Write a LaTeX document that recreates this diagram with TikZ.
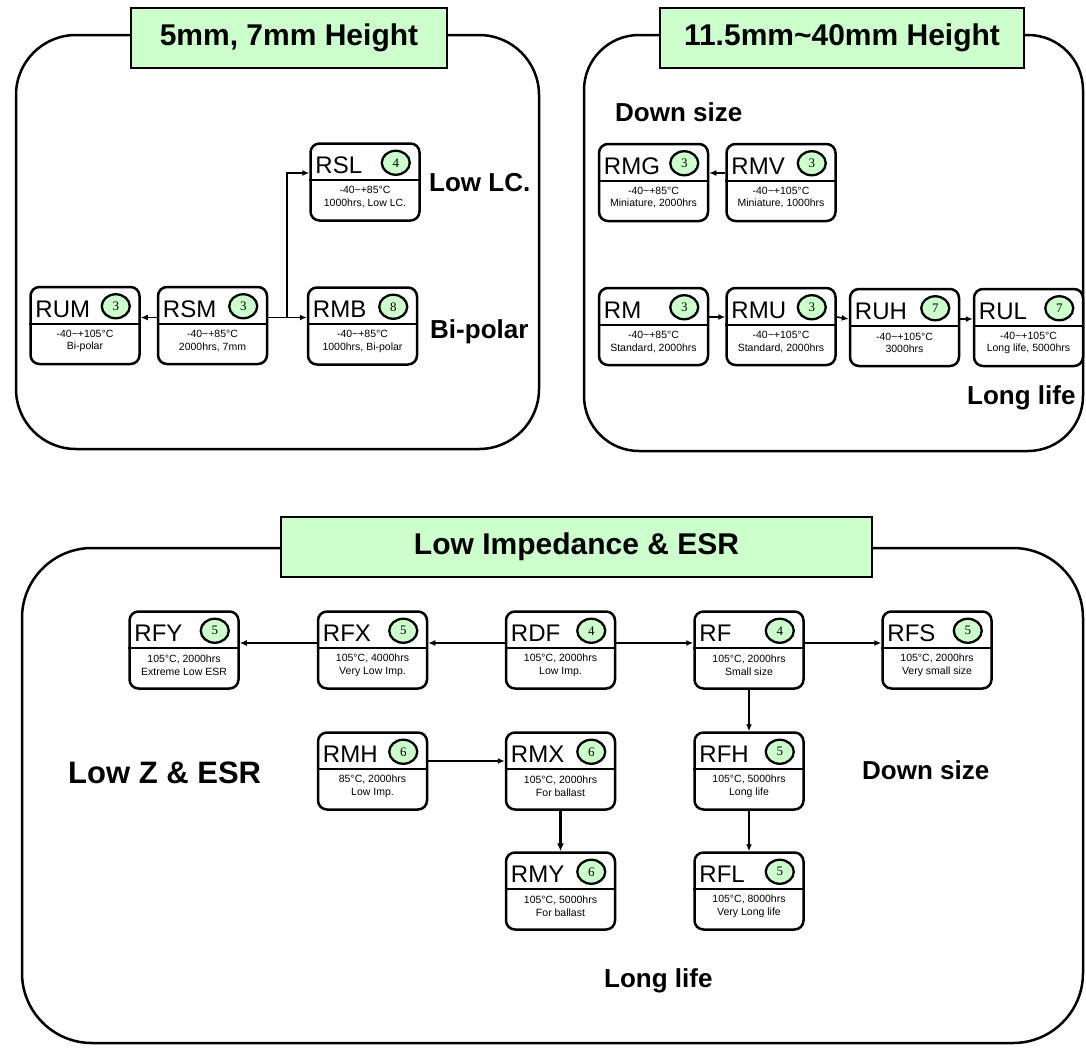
\documentclass[tikz,border=0pt]{standalone}
\usepackage{fontspec}
\setmainfont{Liberation Sans}
\newfontfamily\numfont{Liberation Serif}
\usetikzlibrary{arrows.meta,shapes.geometric,calc}
\definecolor{mint}{HTML}{CCFFCC}
\newcommand{\tilsym}{\textasciitilde}
\tikzset{
  panel/.style={draw, line width=2.5pt},
  titlebox/.style={draw, line width=2.5pt, fill=mint, minimum height=60pt, inner sep=0pt,
    font=\bfseries\fontsize{30}{30}\selectfont},
  capunit/.style={draw, line width=2.5pt, rounded corners=9pt, fill=white,
    minimum width=109pt, minimum height=77pt, inner sep=0pt},
  divline/.style={line width=2pt},
  captitle/.style={anchor=base west, inner sep=0pt, font=\fontsize{24}{24}\selectfont},
  numc/.style={ellipse, draw, line width=2.3pt, fill=mint, minimum width=28pt, minimum height=24pt,
    inner sep=0pt, font=\numfont\fontsize{13}{13}\selectfont},
  capbody/.style={align=center, inner sep=0pt, font=\fontsize{10.5}{12.5}\selectfont},
  biglabel/.style={anchor=west, inner sep=0pt, font=\bfseries\fontsize{26}{26}\selectfont},
  arr/.style={-{Latex[length=7pt,width=6pt]}, line width=1.6pt},
  thickarr/.style={-{Latex[length=8pt,width=7pt]}, line width=2.5pt}
}
% id, x, y, name, number, line1, line2
\newcommand{\capbox}[7]{%
  \node[capunit] (#1) at (#2,#3) {};
  \draw[divline] ([yshift=-38pt]#1.north west) -- ([yshift=-38pt]#1.north east);
  \node[captitle] (#1-n) at ([xshift=6pt,yshift=-31.5pt]#1.north west) {#4};
  \node[numc] (#1-c) at ([xshift=-25pt,yshift=-20.5pt]#1.north east) {#5};
  \node[capbody] (#1-b) at ([yshift=24.5pt]#1.south) {#6\\#7};
}
\begin{document}
\begin{tikzpicture}[x=1pt,y=1pt]
\fill[white] (0,0) rectangle (1086,-1047);
\useasboundingbox (0,0) rectangle (1086,-1047);

% ---------- panels ----------
\draw[panel, rounded corners=60pt] (16,-35) rectangle (539,-449);
\draw[panel, rounded corners=55pt] (584,-35) rectangle (1083,-451);
\draw[panel, rounded corners=70pt] (22,-548) rectangle (1083,-1043);

\node[titlebox, minimum width=316pt] (t1) at (289,-38) {5mm, 7mm Height};
\node[titlebox, minimum width=364pt] (t2) at (842,-38) {11.5mm\tilsym 40mm Height};
\node[titlebox, minimum width=591pt] (t3) at (576.5,-547) {Low Impedance \& ESR};

% ---------- top-left ----------
\capbox{RSL}{365}{-182}{RSL}{4}{-40\tilsym+85°C}{1000hrs, Low LC.}
\capbox{RUM}{85}{-325.5}{RUM}{3}{-40\tilsym+105°C}{Bi-polar}
\capbox{RSM}{212.5}{-325.5}{RSM}{3}{-40\tilsym+85°C}{2000hrs, 7mm}
\capbox{RMB}{362.5}{-326}{RMB}{8}{-40\tilsym+85°C}{1000hrs, Bi-polar}

\draw[arr] ([yshift=8pt]RSM.west) -- ([yshift=8pt]RUM.east);
\draw[arr] ([yshift=8pt]RSM.east) -- ([yshift=8.5pt]RMB.west);
\draw[arr] ([yshift=8pt]RSM.east) -- ++(19pt,0) |- ([yshift=9pt]RSL.west);

\node[biglabel] (lab-lowlc) at (429,-183) {Low LC.};
\node[biglabel] (lab-bipolar) at (430,-332) {Bi-polar};

% ---------- top-right ----------
\node[biglabel] (lab-down1) at (615,-112) {Down size};
\capbox{RMG}{653.5}{-182.5}{RMG}{3}{-40\tilsym+85°C}{Miniature, 2000hrs}
\capbox{RMV}{781}{-182.5}{RMV}{3}{-40\tilsym+105°C}{Miniature, 1000hrs}
\capbox{RM}{653.5}{-326.5}{RM}{3}{-40\tilsym+85°C}{Standard, 2000hrs}
\capbox{RMU}{781}{-326.5}{RMU}{3}{-40\tilsym+105°C}{Standard, 2000hrs}
\capbox{RUH}{904.5}{-327.5}{RUH}{7}{-40\tilsym+105°C}{3000hrs}
\capbox{RUL}{1028.5}{-327.5}{RUL}{7}{-40\tilsym+105°C}{Long life, 5000hrs}

\draw[arr] ([yshift=9.5pt]RMV.west) -- ([yshift=9.5pt]RMG.east);
\draw[arr] ([yshift=9.5pt]RM.east) -- ([yshift=9.5pt]RMU.west);
\draw[arr] ([yshift=9.5pt]RMU.east) -- ([yshift=8.5pt]RUH.west);
\draw[arr] ([yshift=8.5pt]RUH.east) -- ([yshift=8.5pt]RUL.west);

\node[biglabel] (lab-long1) at (967,-398) {Long life};

% ---------- bottom ----------
\capbox{RFY}{184}{-650}{RFY}{5}{105°C, 2000hrs}{Extreme Low ESR}
\capbox{RFX}{372.5}{-650}{RFX}{5}{105°C, 4000hrs}{Very Low Imp.}
\capbox{RDF}{560.5}{-650}{RDF}{4}{105°C, 2000hrs}{Low Imp.}
\capbox{RF}{749}{-650}{RF}{4}{105°C, 2000hrs}{Small size}
\capbox{RFS}{937}{-650}{RFS}{5}{105°C, 2000hrs}{Very small size}
\capbox{RMH}{372.5}{-771}{RMH}{6}{85°C, 2000hrs}{Low Imp.}
\capbox{RMX}{560.5}{-771}{RMX}{6}{105°C, 2000hrs}{For ballast}
\capbox{RFH}{749}{-771}{RFH}{5}{105°C, 5000hrs}{Long life}
\capbox{RMY}{560.5}{-891}{RMY}{6}{105°C, 5000hrs}{For ballast}
\capbox{RFL}{749}{-891}{RFL}{5}{105°C, 8000hrs}{Very Long life}

\draw[arr] ([yshift=7pt]RDF.west) -- ([yshift=7pt]RFX.east);
\draw[arr] ([yshift=7pt]RFX.west) -- ([yshift=7pt]RFY.east);
\draw[arr] ([yshift=7pt]RDF.east) -- ([yshift=7pt]RF.west);
\draw[arr] ([yshift=7pt]RF.east) -- ([yshift=7pt]RFS.west);
\draw[arr] ([yshift=10pt]RMH.east) -- ([yshift=10pt]RMX.west);
\draw[thickarr] (RMX.south) -- (RMY.north);
\draw[arr] (RF.south) -- (RFH.north);
\draw[arr] (RFH.south) -- (RFL.north);

\node[biglabel, font=\bfseries\fontsize{31}{31}\selectfont] (lab-lowz) at (68,-773) {Low Z \& ESR};
\node[biglabel] (lab-down2) at (862,-770) {Down size};
\node[biglabel] (lab-long2) at (604,-981) {Long life};
\end{tikzpicture}
\end{document}
